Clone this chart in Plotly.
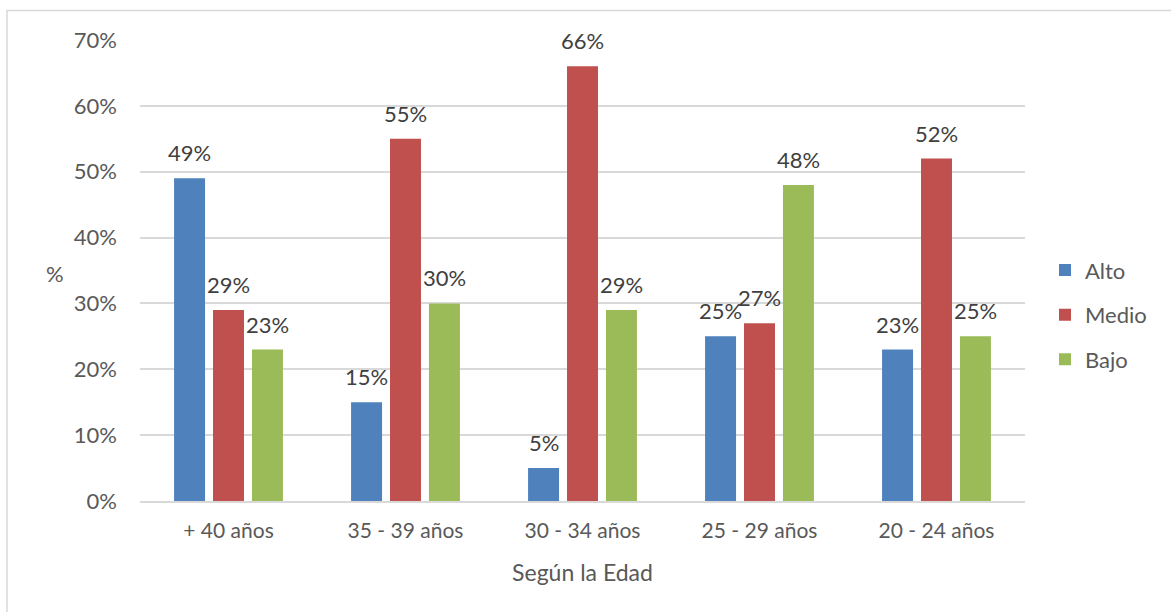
import plotly.graph_objects as go

categories = ["+ 40 años", "35 - 39 años", "30 - 34 años", "25 - 29 años", "20 - 24 años"]
alto = [49, 15, 5, 25, 23]
medio = [29, 55, 66, 27, 52]
bajo = [23, 30, 29, 48, 25]
series_names = ["Alto", "Medio", "Bajo"]
colors = ["#4F81BD", "#C0504D", "#9BBB59"]
y_ticks = [0, 10, 20, 30, 40, 50, 60, 70]

FONT = "Lato, Carlito, Calibri, sans-serif"
TXT = "#595959"

BAR_W = 0.175   # bar width in category units
STEP = 0.22     # distance between neighbouring bars in a group

positions = list(range(len(categories)))

fig = go.Figure()
annotations = []
for k, (name, vals, col) in enumerate(zip(series_names, [alto, medio, bajo], colors)):
    shift = (k - 1) * STEP
    fig.add_trace(go.Bar(
        x=positions, y=vals, name=name, legendgroup=name,
        width=BAR_W, offset=shift - BAR_W / 2,
        marker=dict(color=col, line=dict(width=0)),
        hoverinfo="name+y",
    ))
    for p, v in zip(positions, vals):
        annotations.append(dict(
            x=p + shift, y=v, xref="x", yref="y", text=f"{v}%",
            showarrow=False, yanchor="bottom", yshift=10,
            font=dict(family=FONT, size=22, color="#404040"),
        ))

annotations.append(dict(text="%", xref="paper", yref="paper", x=-0.096, y=0.494,
                        xanchor="center", yanchor="middle", showarrow=False,
                        font=dict(family=FONT, size=22, color=TXT)))

fig.update_layout(
    width=1171, height=612,
    margin=dict(l=140, r=146, t=40, b=111),
    paper_bgcolor="white", plot_bgcolor="white",
    barmode="overlay",
    font=dict(family=FONT, size=21, color=TXT),
    showlegend=True,
    legend=dict(x=1.0226, y=0.404, xanchor="left", yanchor="middle",
                traceorder="grouped", tracegroupgap=13,
                font=dict(family=FONT, size=22, color=TXT),
                itemwidth=30),
    xaxis=dict(range=[-0.5, len(categories) - 0.5], tickvals=positions, ticktext=categories,
               showgrid=False, showline=True, linecolor="#D9D9D9", linewidth=1.5,
               zeroline=False, ticks="", ticklabelstandoff=10,
               tickfont=dict(size=21, color=TXT),
               title=dict(text="Según la Edad", font=dict(size=23, color=TXT), standoff=24)),
    yaxis=dict(range=[0, 70], tickvals=y_ticks, ticktext=[f"{t}%" for t in y_ticks],
               showgrid=True, gridcolor="#D9D9D9", gridwidth=1.5, zeroline=False,
               showline=False, ticks="", ticklabelstandoff=22,
               tickfont=dict(size=22, color=TXT)),
    shapes=[dict(type="rect", xref="paper", yref="paper",
                 x0=-0.1503, x1=1.3, y0=-0.4, y1=1.064,
                 line=dict(color="#D9D9D9", width=1.5), layer="below")],
    annotations=annotations,
)

fig.write_html("out.html")
